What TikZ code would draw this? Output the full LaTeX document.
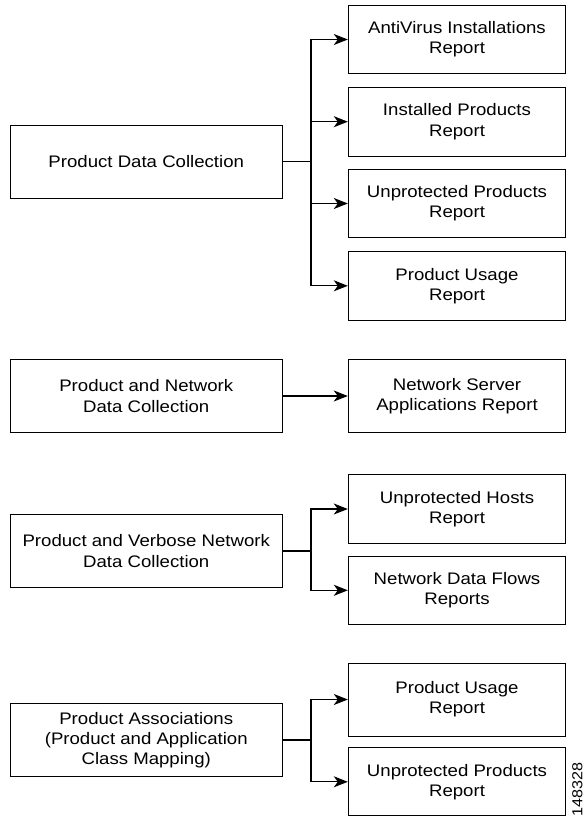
\documentclass[tikz,border=0pt]{standalone}
\usepackage{fontspec}
\setmainfont{Liberation Sans}[FakeStretch=1.115]
\usetikzlibrary{arrows.meta}
\begin{document}
\begin{tikzpicture}[x=1pt,y=1pt,
  box/.style={draw, line width=0.9pt, align=center, inner sep=0pt,
    font=\fontsize{16.7}{20.2}\selectfont},
  srcbox/.style={box, minimum width=271.5pt, minimum height=73pt},
  repbox/.style={box, minimum width=217.5pt, minimum height=68.5pt},
  conn/.style={line width=1.3pt},
  arr/.style={conn, -{Stealth[length=14pt, width=11pt, inset=4pt]}}]
\clip (0,0) rectangle (584,-817);
\fill[white] (0,0) rectangle (584,-817);
% group 1
\node[srcbox] (pdc) at (146.25,-161.5) {Product Data Collection};
\node[repbox] (av) at (457,-39.5) {AntiVirus Installations\\Report};
\node[repbox] (ip) at (457,-121.7) {Installed Products\\Report};
\node[repbox] (up) at (457,-203.5) {Unprotected Products\\Report};
\node[repbox] (pu) at (457,-285.8) {Product Usage\\Report};
\draw[conn] (pdc.east) -- (311,-161.5) coordinate (j1);
\draw[arr] (j1) |- (av.west);
\draw[arr] (j1) |- (ip.west);
\draw[arr] (j1) |- (up.west);
\draw[arr] (j1) |- (pu.west);
% group 2
\node[srcbox] (pndc) at (146.25,-396) {Product and Network\\Data Collection};
\node[repbox, minimum height=73pt] (nsa) at (457,-396) {Network Server\\Applications Report};
\draw[arr] (pndc.east) -- (nsa.west);
% group 3
\node[srcbox] (pvn) at (146.25,-551) {Product and Verbose Network\\Data Collection};
\node[repbox] (uh) at (457,-509) {Unprotected Hosts\\Report};
\node[repbox] (ndf) at (457,-590.3) {Network Data Flows\\Reports};
\draw[conn] (pvn.east) -- (311,-551) coordinate (j3);
\draw[arr] (j3) |- (uh.west);
\draw[arr] (j3) |- (ndf.west);
% group 4
\node[srcbox] (pa) at (146.25,-740) {Product Associations\\(Product and Application\\Class Mapping)};
\node[repbox, minimum height=73pt] (pu2) at (457,-699.5) {Product Usage\\Report};
\node[repbox, minimum height=68pt] (up2) at (457,-781.8) {Unprotected Products\\Report};
\draw[conn] (pa.east) -- (311,-740) coordinate (j4);
\draw[arr] (j4) |- (pu2.west);
\draw[arr] (j4) |- (up2.west);
% figure number
\node[rotate=90, anchor=east, inner sep=0pt, font=\fontsize{14.5}{17}\selectfont] (fig) at (577.5,-762) {148328};
\end{tikzpicture}
\end{document}
